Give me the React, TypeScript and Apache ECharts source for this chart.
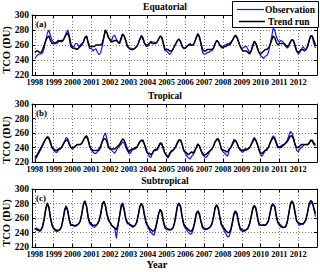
import React, { useEffect, useRef } from "react";
import * as echarts from "echarts";

const yearTicks = [1998, 1999, 2000, 2001, 2002, 2003, 2004, 2005, 2006, 2007, 2008, 2009, 2010, 2011, 2012];
const panelTitles = ["Equatorial", "Tropical", "Subtropical"];
const panelTags = ["(a)", "(b)", "(c)"];
const seriesNames = ["Observation", "Trend run"];

const equatorialObs = [
  242, 245, 247, 248, 248, 250, 256, 266, 276, 280, 272, 266,
  264, 263, 262, 264, 265, 264, 266, 270, 276, 280, 272, 262,
  258, 258, 262, 262, 258, 260, 262, 264, 270, 272, 262, 255,
  256, 252, 254, 255, 250, 247, 250, 258, 270, 280, 276, 270,
  268, 266, 272, 273, 268, 264, 262, 270, 275, 272, 266, 260,
  256, 256, 255, 255, 256, 258, 262, 268, 273, 270, 262, 258,
  258, 262, 265, 264, 264, 262, 264, 268, 272, 270, 262, 252,
  252, 250, 247, 250, 254, 258, 262, 266, 268, 265, 258, 255,
  256, 258, 260, 262, 260, 260, 264, 270, 275, 272, 262, 250,
  248, 248, 250, 250, 252, 252, 256, 262, 266, 264, 260, 256,
  258, 260, 260, 262, 262, 264, 266, 270, 273, 270, 264, 258,
  256, 256, 258, 258, 254, 250, 252, 260, 265, 262, 256, 250,
  246, 244, 242, 245, 246, 250, 260, 270, 282, 280, 272, 266,
  264, 266, 265, 262, 258, 256, 258, 264, 267, 265, 258, 252,
  248, 250, 254, 258, 255, 254, 258, 266, 273, 270, 262, 256,
];
const equatorialTrend = [
  250, 252, 252, 250, 250, 254, 260, 266, 270, 272, 266, 262,
  262, 262, 264, 266, 265, 266, 266, 270, 274, 276, 270, 258,
  256, 256, 255, 254, 256, 258, 260, 264, 270, 272, 264, 258,
  258, 258, 258, 260, 260, 260, 260, 262, 270, 280, 276, 270,
  266, 264, 265, 266, 266, 264, 262, 268, 274, 272, 266, 258,
  256, 254, 254, 254, 256, 258, 262, 268, 272, 268, 262, 260,
  260, 262, 264, 262, 262, 262, 264, 268, 272, 270, 262, 254,
  254, 254, 252, 252, 254, 258, 262, 266, 268, 264, 258, 256,
  256, 258, 260, 260, 260, 260, 264, 270, 275, 270, 262, 254,
  252, 252, 254, 254, 254, 254, 256, 262, 266, 264, 260, 258,
  256, 258, 258, 260, 260, 262, 266, 270, 273, 270, 264, 258,
  254, 252, 252, 252, 250, 248, 252, 258, 265, 262, 256, 250,
  248, 250, 252, 254, 254, 256, 260, 266, 272, 270, 264, 260,
  262, 262, 262, 262, 260, 258, 260, 264, 267, 266, 260, 252,
  250, 252, 254, 254, 252, 254, 258, 266, 272, 272, 266, 260,
];
const tropicalObs = [
  222, 226, 230, 234, 238, 242, 248, 252, 255, 254, 248, 240,
  236, 234, 233, 236, 238, 240, 244, 248, 254, 252, 246, 240,
  238, 240, 242, 244, 244, 244, 246, 250, 254, 256, 252, 242,
  236, 234, 232, 232, 234, 236, 240, 248, 256, 260, 252, 242,
  238, 236, 234, 232, 236, 240, 242, 244, 248, 246, 240, 236,
  232, 232, 236, 238, 238, 240, 244, 248, 250, 248, 244, 238,
  232, 228, 226, 232, 236, 238, 236, 240, 246, 246, 240, 232,
  228, 226, 230, 236, 236, 238, 242, 248, 251, 250, 244, 236,
  232, 228, 226, 224, 228, 230, 234, 240, 244, 242, 236, 230,
  228, 226, 228, 232, 236, 238, 242, 248, 252, 252, 246, 238,
  234, 232, 230, 228, 236, 240, 246, 251, 250, 246, 240, 236,
  234, 234, 236, 236, 238, 240, 244, 250, 254, 250, 244, 236,
  230, 228, 232, 236, 236, 240, 246, 252, 256, 254, 248, 242,
  240, 242, 244, 244, 246, 250, 256, 262, 260, 254, 244, 236,
  234, 238, 240, 242, 244, 244, 244, 246, 250, 248, 244, 242,
];
const tropicalTrend = [
  226, 228, 232, 236, 240, 244, 248, 252, 254, 252, 246, 240,
  238, 236, 236, 238, 238, 240, 244, 248, 250, 250, 244, 240,
  240, 240, 242, 244, 244, 244, 246, 250, 254, 256, 250, 242,
  238, 236, 236, 236, 236, 238, 242, 248, 252, 252, 248, 240,
  238, 238, 238, 238, 240, 242, 244, 248, 252, 250, 244, 238,
  234, 236, 238, 238, 240, 240, 244, 248, 250, 250, 244, 236,
  232, 232, 230, 232, 236, 236, 238, 242, 246, 244, 238, 232,
  230, 226, 232, 234, 236, 238, 242, 246, 250, 250, 244, 236,
  234, 232, 230, 232, 234, 232, 236, 240, 245, 242, 236, 232,
  230, 230, 232, 234, 236, 238, 242, 248, 250, 252, 246, 238,
  236, 236, 234, 234, 238, 240, 244, 248, 250, 246, 240, 238,
  236, 236, 238, 238, 238, 240, 244, 248, 252, 250, 244, 238,
  232, 232, 234, 236, 238, 240, 246, 250, 254, 252, 246, 240,
  240, 240, 242, 244, 246, 248, 252, 256, 256, 252, 244, 240,
  240, 242, 244, 244, 244, 244, 244, 246, 250, 250, 246, 244,
];
const subtropicalObs = [
  244, 246, 245, 241, 243, 250, 260, 274, 281, 276, 260, 250,
  245, 242, 241, 242, 244, 248, 258, 272, 277, 270, 256, 250,
  251, 250, 250, 251, 252, 256, 266, 280, 284, 276, 260, 252,
  250, 248, 247, 249, 252, 256, 264, 278, 283, 276, 264, 256,
  254, 250, 248, 246, 232, 248, 262, 278, 281, 270, 258, 252,
  252, 251, 250, 249, 250, 254, 264, 276, 280, 274, 262, 252,
  248, 244, 240, 238, 236, 244, 254, 266, 272, 266, 254, 246,
  244, 244, 243, 244, 246, 252, 264, 278, 281, 274, 260, 250,
  246, 243, 240, 238, 238, 244, 254, 266, 268, 264, 254, 246,
  244, 244, 245, 246, 248, 252, 262, 274, 278, 272, 260, 250,
  246, 242, 238, 234, 235, 242, 252, 264, 268, 264, 252, 244,
  242, 241, 242, 244, 246, 252, 262, 274, 278, 272, 260, 250,
  250, 250, 251, 250, 252, 256, 266, 278, 280, 276, 262, 254,
  252, 250, 248, 247, 248, 254, 266, 280, 284, 278, 266, 256,
  252, 250, 252, 251, 254, 258, 268, 278, 280, 282, 272, 262,
];
const subtropicalTrend = [
  246, 244, 243, 243, 244, 248, 258, 272, 280, 274, 260, 250,
  246, 244, 243, 243, 244, 248, 258, 270, 276, 270, 258, 250,
  250, 249, 249, 250, 252, 256, 266, 278, 283, 276, 262, 254,
  252, 250, 250, 250, 252, 256, 266, 278, 283, 278, 266, 258,
  254, 250, 248, 246, 244, 250, 262, 274, 280, 272, 260, 254,
  252, 250, 248, 248, 250, 254, 264, 276, 280, 276, 264, 254,
  250, 246, 244, 242, 242, 246, 256, 266, 272, 268, 256, 248,
  246, 245, 244, 244, 246, 252, 264, 276, 280, 276, 262, 252,
  248, 246, 244, 242, 242, 246, 254, 266, 270, 266, 256, 248,
  246, 245, 245, 246, 248, 252, 262, 274, 278, 274, 262, 252,
  248, 245, 242, 240, 240, 244, 254, 266, 270, 266, 254, 246,
  244, 243, 243, 244, 246, 252, 262, 272, 277, 274, 262, 252,
  250, 250, 250, 250, 252, 256, 266, 276, 278, 276, 264, 254,
  250, 248, 247, 247, 248, 254, 266, 278, 283, 280, 268, 256,
  254, 252, 252, 252, 254, 258, 268, 280, 284, 282, 274, 266,
];

const obsSets = [equatorialObs, tropicalObs, subtropicalObs];
const trendSets = [equatorialTrend, tropicalTrend, subtropicalTrend];

const FONT = "'Liberation Serif', 'Times New Roman', serif";
const BLUE = "#1515ff";
const gridTops = [15, 104, 189];
const gridHeights = [60, 58, 58];
const titleYs = [7, 96, 181];
const ylabelYs = [50, 140, 223];

const toXY = (vals: number[]) => vals.map((v, i) => [1998 + i / 12, v]);

export default function App() {
  const ref = useRef<HTMLDivElement>(null);
  useEffect(() => {
    if (!ref.current) return;
    const chart = echarts.init(ref.current, null, { renderer: "svg" });
    const grids: any[] = [];
    const xAxes: any[] = [];
    const yAxes: any[] = [];
    const series: any[] = [];
    const graphics: any[] = [];
    const dotted = { show: true, lineStyle: { color: "#555", type: [1, 2], width: 0.8 } };
    for (let p = 0; p < 3; p++) {
      grids.push({ left: 32, right: 3, top: gridTops[p], height: gridHeights[p], show: false });
      const xb = xAxes.length;
      xAxes.push({
        type: "value", gridIndex: p, min: 1997.85, max: 2013.0, position: "bottom",
        axisLine: { show: true, lineStyle: { color: "#000", width: 1 } },
        axisTick: { show: true, inside: true, length: 3, lineStyle: { color: "#000" }, customValues: yearTicks },
        axisLabel: {
          show: true, customValues: yearTicks, margin: 3, fontFamily: FONT, fontWeight: "bold", fontSize: 8.4, color: "#000",
          formatter: (v: number) => String(Math.round(v)), hideOverlap: false,
        },
        splitLine: dotted,
      });
      xAxes.push({
        type: "value", gridIndex: p, min: 1997.85, max: 2013.0, position: "top",
        axisLine: { show: true, lineStyle: { color: "#000", width: 1 } },
        axisTick: { show: true, inside: true, length: 3, lineStyle: { color: "#000" }, customValues: yearTicks },
        axisLabel: { show: false }, splitLine: { show: false },
      });
      const yb = yAxes.length;
      yAxes.push({
        type: "value", gridIndex: p, min: 220, max: 300, interval: 20, position: "left",
        axisLine: { show: true, lineStyle: { color: "#000", width: 1 } },
        axisTick: { show: true, inside: true, length: 3, lineStyle: { color: "#000" } },
        axisLabel: { show: true, margin: 3, fontFamily: FONT, fontWeight: "bold", fontSize: 9.5, color: "#000" },
        splitLine: dotted,
      });
      yAxes.push({
        type: "value", gridIndex: p, min: 220, max: 300, interval: 20, position: "right",
        axisLine: { show: true, lineStyle: { color: "#000", width: 1 } },
        axisTick: { show: true, inside: true, length: 3, lineStyle: { color: "#000" } },
        axisLabel: { show: false }, splitLine: { show: false },
      });
      series.push({
        type: "line", name: seriesNames[0], xAxisIndex: xb, yAxisIndex: yb, data: toXY(obsSets[p]),
        showSymbol: false, symbol: "none", lineStyle: { color: BLUE, width: 1.2 }, itemStyle: { color: BLUE }, z: 2,
      });
      series.push({
        type: "line", name: seriesNames[1], xAxisIndex: xb, yAxisIndex: yb, data: toXY(trendSets[p]),
        showSymbol: false, symbol: "none", lineStyle: { color: "#000", width: 1.5 }, itemStyle: { color: "#000" }, z: 3,
      });
      graphics.push({
        type: "text", x: 165, y: titleYs[p], z: 10,
        style: { text: panelTitles[p], fontFamily: FONT, fontWeight: "bold", fontSize: 9.5, fill: "#000", textAlign: "center", textVerticalAlign: "middle" },
      });
      graphics.push({
        type: "text", x: 36, y: gridTops[p] + 9, z: 10,
        style: { text: panelTags[p], fontFamily: FONT, fontWeight: "bold", fontSize: 9, fill: "#000", textVerticalAlign: "middle" },
      });
      graphics.push({
        type: "text", x: 6.5, y: ylabelYs[p], rotation: Math.PI / 2, z: 10,
        style: { text: "TCO (DU)", fontFamily: FONT, fontWeight: "bold", fontSize: 10.5, fill: "#000", textAlign: "center", textVerticalAlign: "middle" },
      });
    }
    graphics.push({
      type: "text", x: 157, y: 264, z: 10,
      style: { text: "Year", fontFamily: FONT, fontWeight: "bold", fontSize: 10.5, fill: "#000", textAlign: "center", textVerticalAlign: "middle" },
    });
    // legend box
    graphics.push({
      type: "rect", shape: { x: 232.5, y: 1.5, width: 86, height: 26 }, z: 20,
      style: { fill: "#fff", stroke: "#000", lineWidth: 1 },
    });
    graphics.push({
      type: "line", shape: { x1: 237, y1: 9.5, x2: 264, y2: 9.5 }, z: 21,
      style: { stroke: BLUE, lineWidth: 1.2 },
    });
    graphics.push({
      type: "text", x: 265, y: 9.5, z: 21,
      style: { text: seriesNames[0], fontFamily: FONT, fontWeight: "bold", fontSize: 9.5, fill: "#000", textVerticalAlign: "middle" },
    });
    graphics.push({
      type: "line", shape: { x1: 239, y1: 21.5, x2: 265, y2: 21.5 }, z: 21,
      style: { stroke: "#000", lineWidth: 1.5 },
    });
    graphics.push({
      type: "text", x: 268, y: 21.5, z: 21,
      style: { text: seriesNames[1], fontFamily: FONT, fontWeight: "bold", fontSize: 9.5, fill: "#000", textVerticalAlign: "middle" },
    });
    chart.setOption({
      animation: false,
      backgroundColor: "#fff",
      grid: grids,
      xAxis: xAxes,
      yAxis: yAxes,
      series,
      graphic: graphics,
    });
    return () => chart.dispose();
  }, []);
  return <div ref={ref} style={{ width: 320, height: 272, position: "absolute", left: 0, top: 0 }} />;
}
